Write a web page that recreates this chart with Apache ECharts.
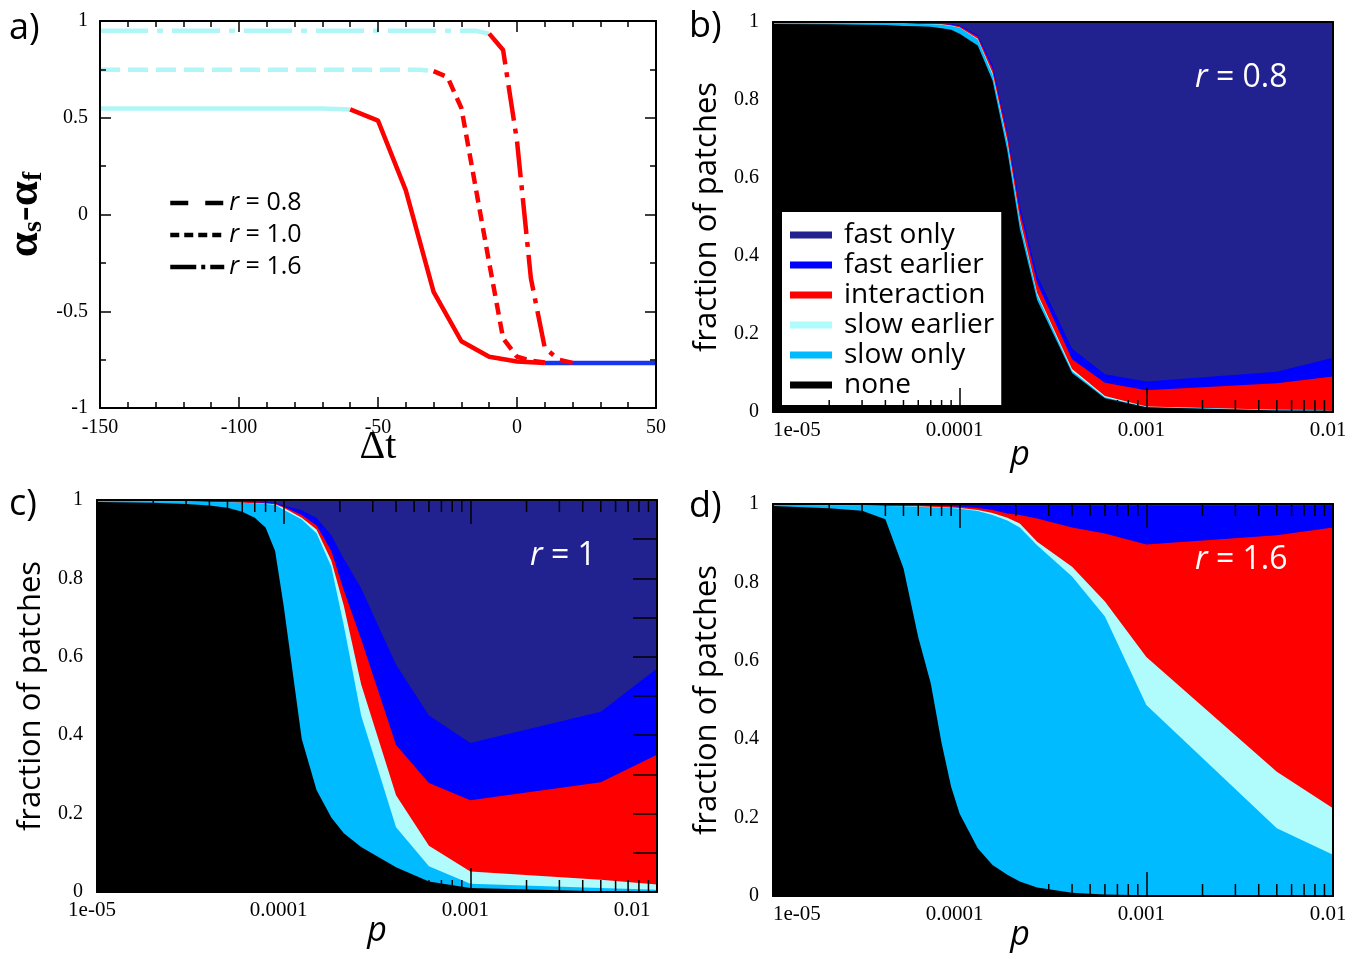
<!DOCTYPE html>
<html><head><meta charset="utf-8">
<script src="https://cdn.jsdelivr.net/npm/echarts@6/dist/echarts.min.js"></script>
<style>html,body{margin:0;padding:0;background:#fff}#c{width:1345px;height:954px}</style>
</head><body><div id="c"></div>
<script>
// ---------- Panel a data: alpha_s - alpha_f vs delta t ----------
const a08Slow  = [[-150,0.548],[-70,0.548],[-60,0.543]];
const a08Inter = [[-60,0.543],[-50,0.485],[-40,0.125],[-30,-0.40],[-20,-0.655],[-10,-0.735],[0,-0.76],[10,-0.767]];
const a10Slow  = [[-150,0.748],[-35,0.748],[-30,0.741]];
const a10Inter = [[-30,0.741],[-25,0.71],[-20,0.55],[-15,0.15],[-10,-0.25],[-5,-0.64],[0,-0.735],[5,-0.755],[10,-0.765]];
const a16Slow  = [[-150,0.95],[-15,0.95],[-10,0.935]];
const a16Inter = [[-10,0.935],[-5,0.85],[0,0.38],[5,-0.33],[10,-0.69],[15,-0.75],[20,-0.767]];
const aFast    = [[10,-0.767],[50,-0.767]];
const aLegendNames = ['r = 0.8','r = 1.0','r = 1.6'];

// ---------- Panels b-d: cumulative layer tops vs p ----------
const P = [1e-5,2e-5,3e-5,4e-5,5e-5,6e-5,7e-5,8e-5,9e-5,1e-4,1.25e-4,1.5e-4,1.8e-4,2.1e-4,2.6e-4,4e-4,6e-4,1e-3,5e-3,1e-2];
const fastOnlyTop = [1,1,1,1,1,1,1,1,1,1,1,1,1,1,1,1,1,1,1,1];

const bNone        = [.995,.994,.993,.992,.990,.989,.988,.984,.980,.970,.940,.850,.670,.470,.287,.100,.035,.012,.004,.003];
const bSlowOnly    = [.998,.997,.997,.996,.995,.995,.994,.993,.990,.985,.955,.865,.690,.490,.300,.105,.038,.013,.005,.004];
const bSlowEarlier = [.998,.997,.997,.996,.996,.995,.995,.994,.991,.986,.957,.870,.695,.495,.305,.110,.041,.014,.006,.005];
const bInteraction = [.999,.998,.998,.997,.997,.996,.996,.995,.993,.989,.962,.880,.710,.515,.330,.135,.075,.056,.074,.091];
const bFastEarlier = [.999,.999,.999,.998,.998,.997,.997,.996,.995,.991,.966,.890,.720,.530,.350,.162,.097,.078,.103,.139];

const cNone        = [.995,.993,.990,.986,.980,.970,.955,.930,.870,.730,.390,.260,.190,.150,.115,.063,.027,.010,.002,.001];
const cSlowOnly    = [.998,.997,.996,.995,.994,.993,.992,.990,.988,.975,.950,.915,.830,.680,.450,.165,.066,.021,.010,.006];
const cSlowEarlier = [.998,.997,.996,.995,.994,.993,.992,.991,.989,.980,.955,.925,.845,.730,.530,.247,.118,.052,.031,.019];
const cInteraction = [.999,.998,.997,.996,.995,.995,.994,.993,.991,.983,.962,.935,.870,.770,.645,.375,.278,.234,.280,.350];
const cFastEarlier = [.999,.999,.998,.998,.997,.997,.996,.995,.993,.986,.974,.954,.910,.850,.775,.580,.450,.380,.460,.570];

const dNone        = [.995,.989,.983,.961,.836,.660,.543,.390,.279,.210,.122,.079,.054,.037,.022,.0085,.004,.002,.001,.0005];
const dSlowOnly    = [.998,.997,.996,.995,.994,.993,.992,.991,.990,.988,.982,.972,.958,.940,.895,.815,.713,.487,.173,.105];
const dSlowEarlier = [.998,.997,.996,.995,.995,.994,.993,.992,.991,.990,.985,.977,.965,.950,.904,.840,.751,.610,.317,.224];
const dInteraction = [.999,.998,.997,.997,.996,.996,.995,.995,.994,.993,.990,.985,.976,.972,.963,.940,.925,.897,.920,.940];
const dFastEarlier = [.999,.999,.999,.999,.998,.998,.998,.998,.998,.997,.997,.997,.996,.996,.996,.996,.995,.995,.995,.996];

const layerNames = ['fast only','fast earlier','interaction','slow earlier','slow only','none'];
const xTickLabels = ['1e-05','0.0001','0.001','0.01'];
const xMinorTicks = [2e-5,3e-5,4e-5,5e-5,6e-5,7e-5,8e-5,9e-5,2e-4,3e-4,4e-4,5e-4,6e-4,7e-4,8e-4,9e-4,2e-3,3e-3,4e-3,5e-3,6e-3,7e-3,8e-3,9e-3];

// ---------- styles ----------
const LAYER_COLORS = ['#21218f','#0000ff','#ff0000','#b0fcfc','#00bbff','#000000'];
const CYAN = '#b0f6f6', RED = '#ff0000', BLUE = '#1a35f0';
const SERIF = 'Liberation Serif', SANS = 'Open Sans';

const chart = echarts.init(document.getElementById('c'), null, {renderer:'canvas'});

const grids = [
  {left:100, top:21, width:556, height:387},
  {left:773, top:22, width:560, height:390},
  {left:97,  top:500, width:560, height:392},
  {left:773, top:504, width:560, height:392}
].map(g => Object.assign({containLabel:false, outerBoundsMode:'none'}, g));

const axisLine = {show:true, onZero:false, lineStyle:{color:'#000', width:2}};

// panel a axes
const xAxes = [
  {type:'value', gridIndex:0, position:'bottom', min:-150, max:50, interval:50, z:10,
   axisLine, axisTick:{show:true, inside:true, length:11, lineStyle:{color:'#000', width:1.5}},
   minorTick:{show:true, splitNumber:5, length:6, lineStyle:{color:'#000', width:1.5}},
   splitLine:{show:false}, minorSplitLine:{show:false},
   axisLabel:{fontFamily:SERIF, fontSize:20, color:'#000', margin:10},
   name:'Δt', nameLocation:'middle', nameGap:19, nameMoveOverlap:false,
   nameTextStyle:{fontFamily:SERIF, fontSize:40, color:'#000'}},
  {type:'value', gridIndex:0, position:'top', min:-150, max:50, interval:50, z:10,
   axisLine, axisTick:{show:true, inside:true, length:11, lineStyle:{color:'#000', width:1.5}},
   minorTick:{show:true, splitNumber:5, length:6, lineStyle:{color:'#000', width:1.5}},
   splitLine:{show:false}, axisLabel:{show:false}}
];
const yAxes = [
  {type:'value', gridIndex:0, position:'left', min:-1, max:1, interval:0.5, z:10,
   axisLine, axisTick:{show:true, inside:true, length:11, lineStyle:{color:'#000', width:1.5}},
   minorTick:{show:true, splitNumber:2, length:6, lineStyle:{color:'#000', width:1.5}},
   splitLine:{show:false},
   axisLabel:{fontFamily:SERIF, fontSize:20, color:'#000', margin:12},
   name:'{a|α}{s|s}{a|-α}{s|f}', nameLocation:'middle', nameRotate:90, nameGap:52, nameMoveOverlap:false,
   nameTextStyle:{rich:{
     a:{fontFamily:SERIF, fontSize:45, fontWeight:'bold', color:'#000', lineHeight:46},
     s:{fontFamily:SERIF, fontSize:28, fontWeight:'bold', color:'#000', lineHeight:28, verticalAlign:'bottom'}
   }}},
  {type:'value', gridIndex:0, position:'right', min:-1, max:1, interval:0.5, z:10,
   axisLine, axisTick:{show:true, inside:true, length:11, lineStyle:{color:'#000', width:1.5}},
   minorTick:{show:true, splitNumber:2, length:6, lineStyle:{color:'#000', width:1.5}},
   splitLine:{show:false}, axisLabel:{show:false}}
];

// panels b-d axes
const panelCfg = [
  {gi:1, topTicks:false, rightTicks:false, nameShift:66, maxShift:10, minAlign:'left',   pGap:26},
  {gi:2, topTicks:true,  rightTicks:true,  nameShift:0,  maxShift:50, minAlign:'center', pGap:22},
  {gi:3, topTicks:true,  rightTicks:false, nameShift:66, maxShift:10, minAlign:'left',   pGap:22}
];
panelCfg.forEach(pc => {
  const tick = {show:true, inside:true, length:24, lineStyle:{color:'#000', width:1.5}};
  xAxes.push({type:'log', logBase:10, gridIndex:pc.gi, position:'bottom', min:1e-5, max:1e-2, z:10,
    axisLine, axisTick:tick, splitLine:{show:false}, minorTick:{show:false},
    axisLabel:{fontFamily:SERIF, fontSize:21, color:'#000', margin:8,
      alignMinLabel:pc.minAlign,
      formatter:v => {
        const k = Math.round(Math.log10(v)) + 5;
        return k === xTickLabels.length - 1 ? '{m|' + xTickLabels[k] + '}' : '{n|' + xTickLabels[k] + '}';
      },
      rich:{
        n:{fontFamily:SERIF, fontSize:21, color:'#000', padding:[0,10,0,0]},
        m:{fontFamily:SERIF, fontSize:21, color:'#000', padding:[0,pc.maxShift,0,0]}
      }},
    name:'p', nameLocation:'middle', nameGap:pc.pGap, nameMoveOverlap:false,
    nameTextStyle:{fontFamily:SANS, fontSize:34, fontStyle:'italic', color:'#000', padding:[0, pc.nameShift, 0, 0]}});
  xAxes.push({type:'log', logBase:10, gridIndex:pc.gi, position:'top', min:1e-5, max:1e-2, z:10,
    axisLine, axisTick:Object.assign({}, tick, {show:pc.topTicks}), splitLine:{show:false},
    axisLabel:{show:false}});
  yAxes.push({type:'value', gridIndex:pc.gi, position:'left', min:0, max:1, interval:0.2, z:10,
    axisLine, axisTick:{show:false}, splitLine:{show:false},
    axisLabel:{fontFamily:SERIF, fontSize:20, color:'#000', margin:14, formatter:v => String(+v.toFixed(1))},
    name:'fraction of patches', nameLocation:'middle', nameRotate:90, nameGap:50, nameMoveOverlap:false,
    nameTextStyle:{fontFamily:SANS, fontSize:31, color:'#000'}});
  yAxes.push({type:'value', gridIndex:pc.gi, position:'right', min:0, max:1, interval:0.1, z:10,
    axisLine, axisTick:{show:pc.rightTicks, inside:true, length:24, lineStyle:{color:'#000', width:1.5}},
    splitLine:{show:false}, axisLabel:{show:false}});
});

const series = [];
// panel a lines
function aLine(data, color, type) {
  return {type:'line', xAxisIndex:0, yAxisIndex:0, data, symbol:'none', silent:true, z:3,
          lineStyle:{color, width:4.5, type, cap:'butt'}, color};
}
series.push(aLine(aFast, BLUE, 'solid'));
series.push(aLine(a08Slow, CYAN, 'solid'));
series.push(aLine(a08Inter, RED, 'solid'));
series.push(aLine(a10Slow, CYAN, [20,8]));
series.push(aLine(a10Inter, RED, [12,7]));
series.push(aLine(a16Slow, CYAN, [48,9,6,9]));
series.push(aLine(a16Inter, RED, [36,8,5,8]));
// panel a legend entries
const aLegendDash = [[18,17],[9,5],[26,5,4,5]];
aLegendNames.forEach((n, i) => {
  series.push({type:'line', name:n, xAxisIndex:0, yAxisIndex:0, data:[], symbol:'none', color:'#000',
               lineStyle:{color:'#000', width:4, type:aLegendDash[i]}});
});

// panels b-d areas
const panelData = [
  [fastOnlyTop, bFastEarlier, bInteraction, bSlowEarlier, bSlowOnly, bNone],
  [fastOnlyTop, cFastEarlier, cInteraction, cSlowEarlier, cSlowOnly, cNone],
  [fastOnlyTop, dFastEarlier, dInteraction, dSlowEarlier, dSlowOnly, dNone]
];
panelData.forEach((layers, k) => {
  const gi = k + 1;
  layers.forEach((tops, j) => {
    series.push({type:'line', name:layerNames[j], xAxisIndex:gi*2, yAxisIndex:gi*2,
      data:P.map((p, i) => [p, tops[i]]), symbol:'none', silent:true, z:2,
      color:LAYER_COLORS[j], lineStyle:{width:0, color:LAYER_COLORS[j]},
      areaStyle:{color:LAYER_COLORS[j], opacity:1}});
  });
  const pc = panelCfg[k];
  series.push({type:'custom', xAxisIndex:gi*2, yAxisIndex:gi*2, z:10, silent:true,
    data:xMinorTicks.map(v => [v, 0]), encode:{x:0, y:1},
    renderItem:(params, api) => {
      const b = api.coord([api.value(0), 0]);
      const t = api.coord([api.value(0), 1]);
      const st = {stroke:'#000', lineWidth:1.5};
      const ch = [{type:'line', shape:{x1:b[0], y1:b[1], x2:b[0], y2:b[1]-12}, style:st}];
      if (pc.topTicks) ch.push({type:'line', shape:{x1:t[0], y1:t[1], x2:t[0], y2:t[1]+12}, style:st});
      return {type:'group', children:ch};
    }});
});

const option = {
  animation:false,
  backgroundColor:'#fff',
  grid:grids,
  xAxis:xAxes,
  yAxis:yAxes,
  legend:[
    {data:aLegendNames, orient:'vertical', left:168, top:187, padding:0, itemGap:0,
     itemWidth:54, itemHeight:14, selectedMode:false,
     itemStyle:{opacity:0},
     lineStyle:{width:4.5, color:'#000', type:'inherit', cap:'butt'},
     formatter:n => '{i|r}{n|' + n.slice(1) + '}',
     textStyle:{fontFamily:SANS, fontSize:25, color:'#000', lineHeight:32,
       rich:{i:{fontFamily:SANS, fontSize:25, fontStyle:'italic', color:'#000', lineHeight:32},
             n:{fontFamily:SANS, fontSize:25, color:'#000', lineHeight:32}}}},
    {data:layerNames, orient:'vertical', left:782, top:212, padding:[8,7,5,8], itemGap:0,
     backgroundColor:'#fff', itemWidth:42, itemHeight:7, icon:'rect', selectedMode:false,
     textStyle:{fontFamily:SANS, fontSize:28, color:'#000', lineHeight:30, padding:[0,0,0,7]}}
  ],
  graphic:[
    {type:'text', left:9, top:11, z:100, style:{text:'a)', fontFamily:SANS, fontSize:36, fill:'#000'}},
    {type:'text', left:689, top:9, z:100, style:{text:'b)', fontFamily:SANS, fontSize:36, fill:'#000'}},
    {type:'text', left:9, top:487, z:100, style:{text:'c)', fontFamily:SANS, fontSize:36, fill:'#000'}},
    {type:'text', left:689, top:489, z:100, style:{text:'d)', fontFamily:SANS, fontSize:36, fill:'#000'}},
    {type:'text', x:1195, y:78, z:100, style:{text:'{i|r} = 0.8', fontFamily:SANS, fontSize:32, fill:'#fff',
      verticalAlign:'middle', rich:{i:{fontStyle:'italic', fontFamily:SANS, fontSize:32, fill:'#fff'}}}},
    {type:'text', x:530, y:556, z:100, style:{text:'{i|r} = 1', fontFamily:SANS, fontSize:32, fill:'#fff',
      verticalAlign:'middle', rich:{i:{fontStyle:'italic', fontFamily:SANS, fontSize:32, fill:'#fff'}}}},
    {type:'text', x:1195, y:560, z:100, style:{text:'{i|r} = 1.6', fontFamily:SANS, fontSize:32, fill:'#fff',
      verticalAlign:'middle', rich:{i:{fontStyle:'italic', fontFamily:SANS, fontSize:32, fill:'#fff'}}}}
  ],
  series
};
chart.setOption(option);
</script></body></html>
